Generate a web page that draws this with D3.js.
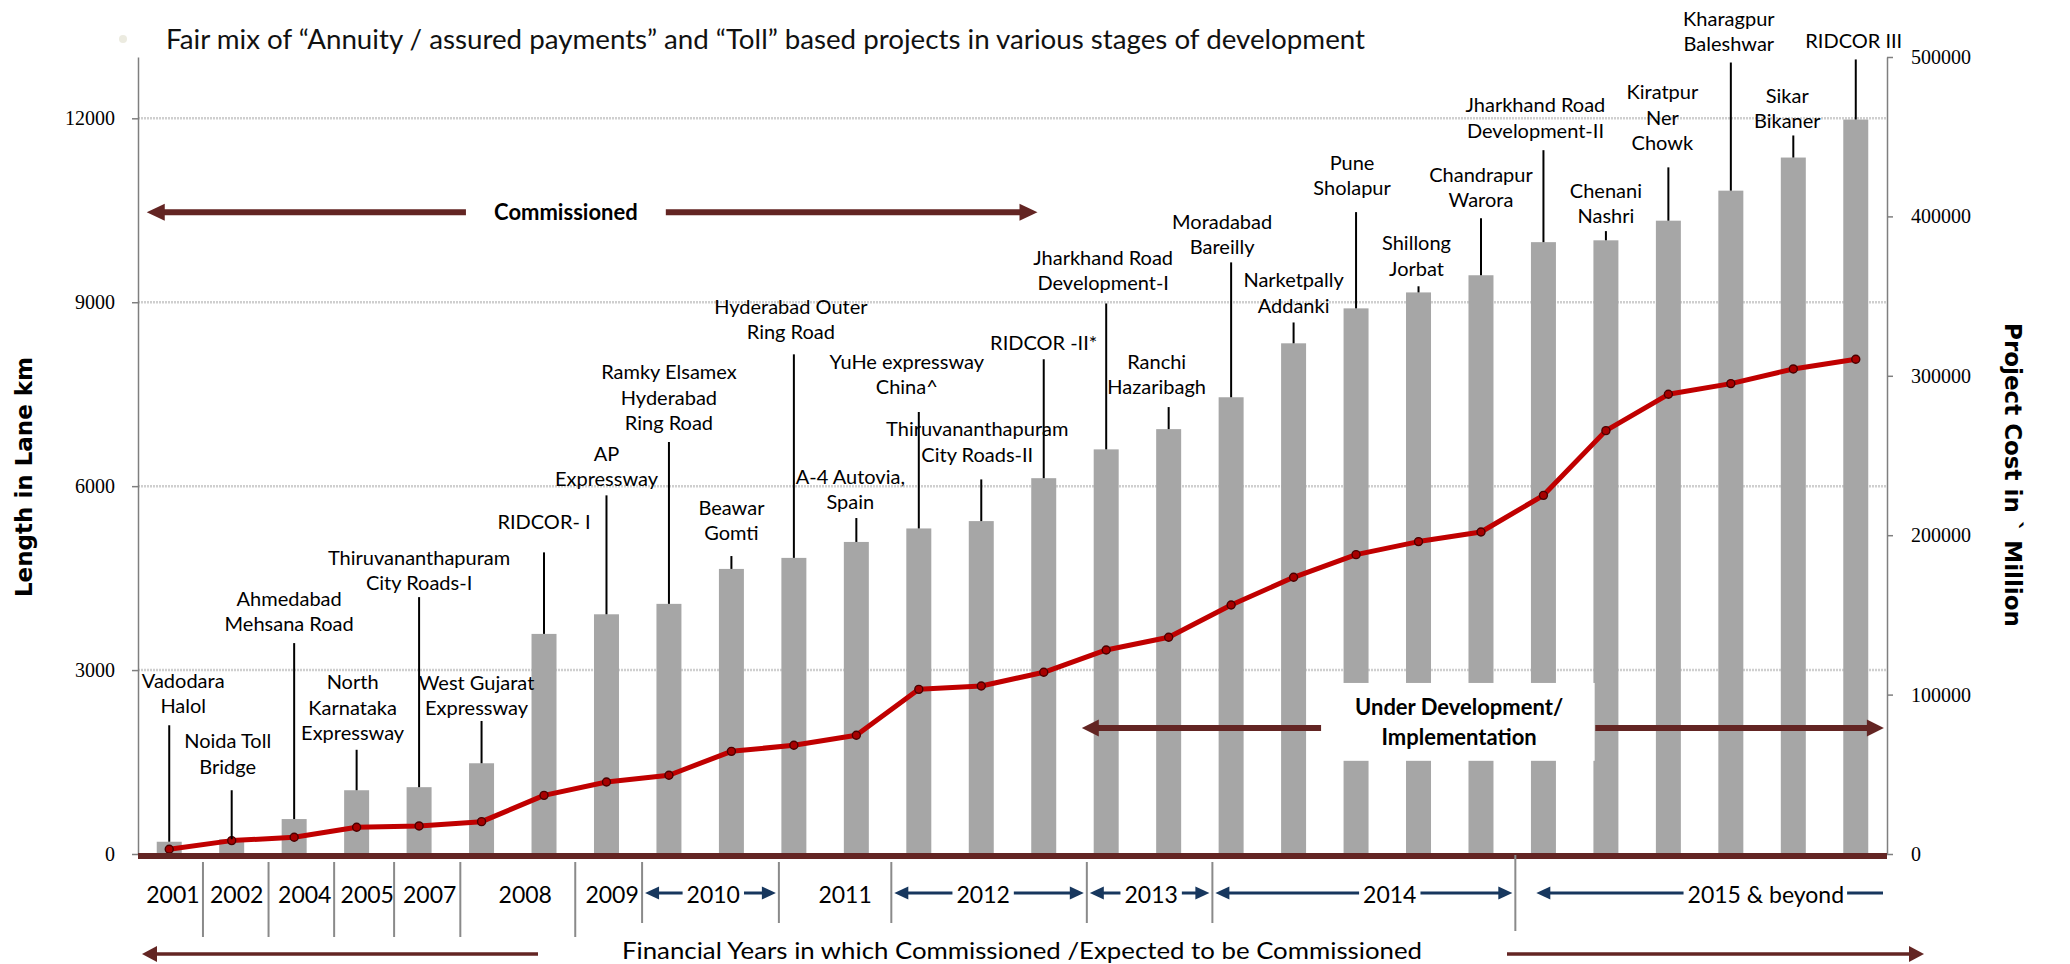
<!DOCTYPE html>
<html lang="en">
<head>
<meta charset="utf-8">
<title>Road portfolio - lane km and project cost</title>
<script src="https://cdnjs.cloudflare.com/ajax/libs/d3/7.8.5/d3.min.js"></script>
<style>
  body { margin: 0; background: #fff; }
  text { font-family: Lato, "Open Sans", sans-serif; }
</style>
</head>
<body>
<script>
"use strict";

// one entry per bar, lines of the callout text
const projects = [
  ["Vadodara", "Halol"],
  ["Noida Toll", "Bridge"],
  ["Ahmedabad", "Mehsana Road"],
  ["North", "Karnataka", "Expressway"],
  ["Thiruvananthapuram", "City Roads-I"],
  ["West Gujarat", "Expressway"],
  ["RIDCOR- I"],
  ["AP", "Expressway"],
  ["Ramky Elsamex", "Hyderabad", "Ring Road"],
  ["Beawar", "Gomti"],
  ["Hyderabad Outer", "Ring Road"],
  ["A-4 Autovia,", "Spain"],
  ["YuHe expressway", "China^"],
  ["Thiruvananthapuram", "City Roads-II"],
  ["RIDCOR -II*"],
  ["Jharkhand Road", "Development-I"],
  ["Ranchi", "Hazaribagh"],
  ["Moradabad", "Bareilly"],
  ["Narketpally", "Addanki"],
  ["Pune", "Sholapur"],
  ["Shillong", "Jorbat"],
  ["Chandrapur", "Warora"],
  ["Jharkhand Road", "Development-II"],
  ["Chenani", "Nashri"],
  ["Kiratpur", "Ner", "Chowk"],
  ["Kharagpur", "Baleshwar"],
  ["Sikar", "Bikaner"],
  ["RIDCOR III"]
];

// cumulative length in lane km (bars, left axis)
const laneKm = [200, 240, 570, 1040, 1090, 1480, 3590, 3910, 4080, 4650, 4830, 5090, 5310, 5430,
                6130, 6600, 6930, 7450, 8330, 8900, 9160, 9440, 9980, 10010, 10330, 10820, 11360, 11980];

// cumulative project cost in ` million (line, right axis)
const costMn = [3000, 8400, 10500, 16800, 17600, 20300, 36800, 45200, 49400, 64400, 68200, 74500, 103300, 105400,
                114000, 128000, 136000, 156200, 173600, 187800, 196000, 202000, 225000, 265600, 288400, 295100, 304300, 310400];

// callout levels, in lane km: top of the leader line and the last text line
const leaderTop = [2100, 1040, 3440, 1700, 4190, 2170, 4920, 5850, 6720, 4860, 8150, 5480, 7210, 6110,
                   8070, 8980, 7290, 9650, 8670, 10470, 9260, 10370, 11480, 10160, 11200, 12910, 11720, 12960];
const labelBase = [2410, 1420, 3750, 1970, 4420, 2380, 5410, 6110, 7030, 5230, 8510, 5740, 7610, 6510,
                   8330, 9310, 7610, 9900, 8940, 10860, 9550, 10660, 11800, 10400, 11590, 13210, 11950, 13260];
const labelDx = [14, -4, -5, -4, 0, -5, 0, 0, 0, 0, -3, -6, -12, -4, 0, -3, -12, -9, 0, -4, -2, 0, -8, 0, -6, -2, -6, -2];

// financial years under the axis (positions in bar-index units)
const years = ["2001", "2002", "2004", "2005", "2007", "2008", "2009", "2010", "2011", "2012", "2013", "2014", "2015 & beyond"];
const yearAt = [0.06, 1.08, 2.17, 3.17, 4.17, 5.70, 7.09, 8.71, 10.82, 13.03, 15.72, 19.54, 25.56];
const yearSeps = [0.54, 1.59, 2.64, 3.60, 4.66, 6.50, 7.57, 9.76, 11.56, 14.69, 16.70, 21.55];
const arrowYears = ["2010", "2012", "2013", "2014", "2015 & beyond"];

const leftTicks = [0, 3000, 6000, 9000, 12000];
const rightTicks = [0, 100000, 200000, 300000, 400000, 500000];

const W = 2070, H = 964;
const x0 = 138, x1 = 1887, yTop = 57, yBot = 854;
const darkRed = "#632523", navy = "#17375e";

const svg = d3.select("body").append("svg")
    .attr("width", W)
    .attr("height", H);

svg.append("rect").attr("width", W).attr("height", H).attr("fill", "#fff");

const x = d3.scaleBand()
    .domain(d3.range(laneKm.length))
    .range([x0, x1])
    .paddingInner(0.6)
    .paddingOuter(0.3);
// same positions as a continuous scale, for things placed between bars
const ix = d3.scaleLinear().domain([-0.5, laneKm.length - 0.5]).range([x0, x1]);
const cx = i => x(i) + x.bandwidth() / 2;

const yL = d3.scaleLinear().domain([0, 13000]).range([yBot, yTop]);
const yR = d3.scaleLinear().domain([0, 500000]).range([yBot, yTop]);

//gridlines
svg.append("g")
  .selectAll("line")
  .data(leftTicks.filter(d => d > 0))
  .enter().append("line")
    .attr("x1", x0).attr("x2", x1)
    .attr("y1", d => yL(d)).attr("y2", d => yL(d))
    .attr("stroke", "#cfcfcf")
    .attr("stroke-width", 2.5)
    .attr("stroke-dasharray", "2,1");

//bars
svg.append("g")
  .selectAll("rect")
  .data(laneKm)
  .enter().append("rect")
    .attr("x", (d, i) => x(i))
    .attr("width", x.bandwidth())
    .attr("y", d => yL(d))
    .attr("height", d => yBot - yL(d))
    .attr("fill", "#a6a6a6");

//cost line
const line = d3.line()
    .x((d, i) => cx(i))
    .y(d => yR(d));

svg.append("path")
    .datum(costMn)
    .attr("d", line)
    .attr("fill", "none")
    .attr("stroke", "#c00000")
    .attr("stroke-width", 5)
    .attr("stroke-linejoin", "round");

svg.append("g")
  .selectAll("circle")
  .data(costMn)
  .enter().append("circle")
    .attr("cx", (d, i) => cx(i))
    .attr("cy", d => yR(d))
    .attr("r", 4)
    .attr("fill", "#a80000")
    .attr("stroke", "#4a0000")
    .attr("stroke-width", 1.4);

//callouts
const callout = svg.append("g")
  .selectAll("g")
  .data(projects)
  .enter().append("g");

callout.append("line")
    .attr("x1", (d, i) => cx(i)).attr("x2", (d, i) => cx(i))
    .attr("y1", (d, i) => yL(leaderTop[i]))
    .attr("y2", (d, i) => yL(laneKm[i]))
    .attr("stroke", "#000")
    .attr("stroke-width", 2);

callout.each(function(lines, i) {
    const n = lines.length;
    d3.select(this).selectAll("text")
      .data(lines)
      .enter().append("text")
        .attr("x", cx(i) + labelDx[i])
        .attr("y", (t, k) => yL(labelBase[i]) - (n - 1 - k) * 25.5)
        .attr("dy", "0.35em")
        .attr("text-anchor", "middle")
        .attr("font-size", 20)
        .attr("fill", "#000")
        .text(t => t);
});

//axes
const axL = svg.append("g")
    .attr("transform", "translate(" + x0 + ",0)")
    .call(d3.axisLeft(yL).tickValues(leftTicks).tickFormat(d3.format("d"))
        .tickSize(6).tickSizeOuter(0).tickPadding(17));
const axR = svg.append("g")
    .attr("transform", "translate(" + x1 + ",0)")
    .call(d3.axisRight(yR).tickValues(rightTicks).tickFormat(d3.format("d"))
        .tickSize(6).tickSizeOuter(0).tickPadding(18));

[axL, axR].forEach(function(ax) {
    ax.select(".domain").attr("stroke", "#7f7f7f").attr("stroke-width", 1.5);
    ax.selectAll(".tick line").attr("stroke", "#7f7f7f").attr("stroke-width", 1.5);
    ax.selectAll(".tick text")
        .style("font-family", "'Liberation Serif', 'DejaVu Serif', serif")
        .style("font-size", "20px")
        .attr("fill", "#000");
});

//axis titles
svg.append("text")
    .attr("transform", "translate(24,477) rotate(-90)")
    .attr("text-anchor", "middle")
    .attr("dominant-baseline", "central")
    .style("font-family", "'DejaVu Sans', sans-serif")
    .attr("font-weight", "bold")
    .attr("font-size", 23)
    .text("Length in Lane km");

svg.append("text")
    .attr("transform", "translate(2013,475) rotate(90)")
    .attr("text-anchor", "middle")
    .attr("dominant-baseline", "central")
    .style("font-family", "'DejaVu Sans', sans-serif")
    .attr("font-weight", "bold")
    .attr("font-size", 23)
    .text("Project Cost in ` Million");

//zero line
svg.append("line")
    .attr("x1", x0).attr("x2", x1)
    .attr("y1", yBot + 2).attr("y2", yBot + 2)
    .attr("stroke", darkRed)
    .attr("stroke-width", 6);

//arrow helper: shaft from xa to the tip at xb
function arrow(xa, xb, y, shaft, len, half, color, head) {
    const dir = xb > xa ? 1 : -1;
    const g = svg.append("g");
    g.append("line")
        .attr("x1", xa).attr("x2", head ? xb - dir * (len - 2) : xb)
        .attr("y1", y).attr("y2", y)
        .attr("stroke", color)
        .attr("stroke-width", shaft);
    if (head) {
        g.append("path")
            .attr("d", "M" + xb + "," + y + "L" + (xb - dir * len) + "," + (y - half) +
                       "L" + (xb - dir * len) + "," + (y + half) + "Z")
            .attr("fill", color);
    }
}

//commissioned
arrow(ix(4.75), ix(-0.36), yL(10467), 6, 18, 8.5, darkRed, true);
arrow(ix(7.95), ix(13.90), yL(10467), 6, 18, 8.5, darkRed, true);
svg.append("text")
    .attr("x", ix(6.35)).attr("y", yL(10467))
    .attr("dy", "0.35em")
    .attr("text-anchor", "middle")
    .attr("font-weight", "bold")
    .attr("font-size", 22)
    .text("Commissioned");

//under development box
svg.append("rect")
    .attr("x", ix(18.79)).attr("width", ix(22.82) - ix(18.79))
    .attr("y", yL(2790)).attr("height", yL(1520) - yL(2790))
    .attr("fill", "#fff");
arrow(ix(18.44), ix(14.61), yL(2054), 6, 17, 8.5, darkRed, true);
arrow(ix(22.83), ix(27.45), yL(2054), 6, 17, 8.5, darkRed, true);
svg.append("text")
    .attr("x", ix(20.65)).attr("y", yL(2390))
    .attr("dy", "0.35em")
    .attr("text-anchor", "middle")
    .attr("font-weight", "bold")
    .attr("font-size", 22)
    .text("Under Development/");
svg.append("text")
    .attr("x", ix(20.65)).attr("y", yL(1910))
    .attr("dy", "0.35em")
    .attr("text-anchor", "middle")
    .attr("font-weight", "bold")
    .attr("font-size", 22)
    .text("Implementation");

//year separators
svg.append("g")
  .selectAll("line")
  .data(yearSeps)
  .enter().append("line")
    .attr("x1", d => ix(d)).attr("x2", d => ix(d))
    .attr("y1", d => d > 20 ? 855 : 862)
    .attr("y2", d => d < 7 ? 937 : (d > 20 ? 931 : 923))
    .attr("stroke", "#8a8a8a")
    .attr("stroke-width", 2);

//year labels
const yearText = svg.append("g")
  .selectAll("text")
  .data(years)
  .enter().append("text")
    .attr("x", (d, i) => ix(yearAt[i]))
    .attr("y", 895)
    .attr("dy", "0.35em")
    .attr("text-anchor", "middle")
    .attr("font-size", 23)
    .attr("fill", "#000")
    .text(d => d);

yearText.each(function(d, i) {
    if (arrowYears.indexOf(d) < 0) return;
    const half = this.getComputedTextLength() / 2;
    const xc = ix(yearAt[i]);
    const prev = ix(yearSeps[i - 1]);
    const last = i === years.length - 1;
    arrow(xc - half - 4, last ? prev + 21 : prev + 3, 893, 3, 14, 6.5, navy, true);
    if (last) {
        arrow(xc + half + 3, x1 - 4, 893, 3, 14, 6.5, navy, false);
    } else {
        arrow(xc + half + 4, ix(yearSeps[i]) - 3, 893, 3, 14, 6.5, navy, true);
    }
});

//bottom caption and arrows
svg.append("text")
    .attr("x", 622).attr("y", 951)
    .attr("dy", "0.35em")
    .attr("font-size", 24)
    .attr("textLength", 800)
    .attr("lengthAdjust", "spacingAndGlyphs")
    .text("Financial Years in which Commissioned /Expected to be Commissioned");
arrow(538, 142, 954, 3.5, 15, 8, darkRed, true);
arrow(1507, 1924, 954, 3.5, 15, 8, darkRed, true);

//heading
svg.append("circle")
    .attr("cx", 123).attr("cy", 39).attr("r", 4)
    .attr("fill", "#ecebe0");
svg.append("text")
    .attr("x", 166).attr("y", 49)
    .attr("font-size", 26)
    .attr("textLength", 1199)
    .attr("lengthAdjust", "spacingAndGlyphs")
    .attr("fill", "#111")
    .text("Fair mix of \u201cAnnuity / assured payments\u201d and \u201cToll\u201d based  projects in various stages of development");
</script>
</body>
</html>
